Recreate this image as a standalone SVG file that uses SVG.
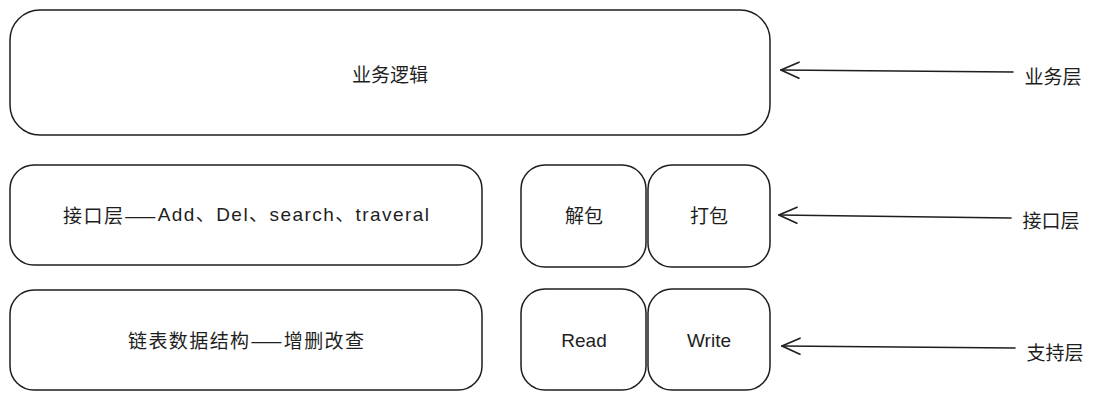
<svg xmlns="http://www.w3.org/2000/svg" width="1095" height="401" viewBox="0 0 1095 401">
<style>
.box{fill:#fff;stroke:#1e1e1e;stroke-width:1.5}
.t{font-family:"Noto Sans CJK SC","Liberation Sans",sans-serif;font-size:19px;fill:#1e1e1e;text-anchor:middle;dominant-baseline:central}
.e{font-family:"Liberation Sans","Noto Sans CJK SC",sans-serif}
.c{fill:none;stroke:#1e1e1e;stroke-width:1.6;stroke-linecap:round}
</style>
<defs>
<marker id="ah" viewBox="0 0 20 20" refX="19" refY="10" markerWidth="20" markerHeight="20" markerUnits="userSpaceOnUse" orient="auto">
<path d="M1 2 L19 10 L1 18" fill="none" stroke="#1e1e1e" stroke-width="1.6" stroke-linecap="round"/>
</marker>
</defs>
<rect width="1095" height="401" fill="#fff"/>
<g id="biz"><rect class="box" x="10" y="10" width="760" height="125" rx="30"/><text class="t" x="390" y="73">业务逻辑</text></g>
<g id="iface"><rect class="box" x="10" y="165" width="472" height="100" rx="24"/><text class="t" x="246" y="214" textLength="366" lengthAdjust="spacing">接口层——<tspan class="e">Add、Del、search、traveral</tspan></text></g>
<g id="ds"><rect class="box" x="10" y="290" width="472" height="100" rx="24"/><text class="t" x="246" y="339" textLength="236" lengthAdjust="spacing">链表数据结构——增删改查</text></g>
<g id="unpack"><rect class="box" x="521" y="165" width="125" height="102" rx="24"/><text class="t" x="584" y="214">解包</text></g>
<g id="pack"><rect class="box" x="648" y="165" width="122" height="102" rx="24"/><text class="t" x="709" y="214">打包</text></g>
<g id="read"><rect class="box" x="521" y="289" width="125" height="101" rx="24"/><text class="t e" x="584" y="340">Read</text></g>
<g id="write"><rect class="box" x="648" y="289" width="122" height="101" rx="24"/><text class="t e" x="709" y="340">Write</text></g>
<g id="connectors">
<line class="c" x1="1013" y1="72" x2="781" y2="70" marker-end="url(#ah)"/>
<line class="c" x1="1011" y1="218" x2="779" y2="215" marker-end="url(#ah)"/>
<line class="c" x1="1015" y1="348" x2="782" y2="346" marker-end="url(#ah)"/>
</g>
<g id="labels">
<text class="t" x="1053" y="75">业务层</text>
<text class="t" x="1051" y="219">接口层</text>
<text class="t" x="1055" y="351">支持层</text>
</g>
</svg>
